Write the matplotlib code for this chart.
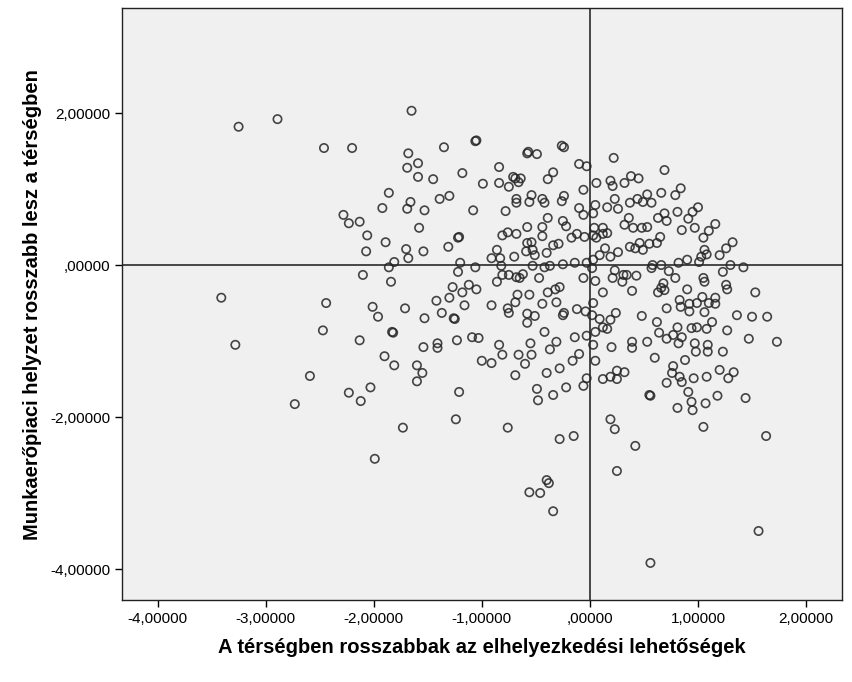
import numpy as np
import matplotlib.pyplot as plt

# Adatok: A térségben rosszabbak az elhelyezkedési lehetőségek (x)
# és Munkaerőpiaci helyzet rosszabb lesz a térségben (y)
x_bal = [-3.25, -2.89, -2.46, -2.20, -1.65, -1.68, -1.59, -1.69, -1.59, -1.86,
         -1.92, -1.66, -1.69, -2.28, -2.23, -2.13, -2.06, -1.89, -2.07, -1.70,
         -1.68, -1.81, -1.86, -1.58,
         -3.41, -3.28, -2.44, -2.47, -2.10, -1.84, -2.01, -1.96, -1.71, -1.83,
         -1.82, -2.13, -1.90, -1.81, -1.60, -1.60, -2.59, -2.73, -2.23, -2.03,
         -2.12, -1.73, -1.99]
y_bal = [1.82, 1.92, 1.54, 1.54, 2.03, 1.47, 1.34, 1.28, 1.16, 0.95,
         0.75, 0.83, 0.74, 0.66, 0.55, 0.57, 0.39, 0.30, 0.18, 0.21,
         0.09, 0.04, -0.03, 0.49,
         -0.43, -1.05, -0.50, -0.86, -0.13, -0.22, -0.55, -0.68, -0.57, -0.88,
         -0.89, -0.99, -1.20, -1.32, -1.32, -1.53, -1.46, -1.83, -1.68, -1.61,
         -1.79, -2.14, -2.55]

x_kozep = [-1.35, -1.05, -1.06, -0.57, -0.58, -0.49, -0.26, -0.24, -0.10, -0.03,
           -1.45, -1.18, -0.99, -0.84, -0.84, -0.75, -0.71, -0.69, -0.64, -0.66,
           -0.39, -0.34, -0.06, -1.30, -1.39, -0.54, -0.24, -0.68, -0.44,
           -1.53, -1.08, -1.54, -1.22, -1.21, -1.31, -0.78, -0.68, -0.56, -0.42,
           -0.26, -0.39, -0.25, -0.22, -0.10, -0.06, -0.58, -0.44, -0.44, -0.81,
           -0.76, -0.68, -0.54, -0.58, -0.53, -0.59, -0.51, -0.40, -0.34, -0.29,
           -0.17, -0.12, -0.05, -0.86, -0.91, -0.83, -0.70, -1.20, -1.22, -1.06,
           -0.82, -0.81, -0.75, -0.68, -0.62, -0.65, -0.53, -0.42, -0.37, -0.25,
           -0.14, -0.03, -0.47, -0.86, -1.27, -1.12, -1.05, -1.18, -0.67, -0.56,
           -0.39, -0.32, -0.28, -0.06,
           -1.42, -1.30, -1.16, -1.37, -1.53, -1.26, -1.25, -0.91, -0.76, -0.75,
           -0.69, -0.44, -0.31, -0.58, -0.51, -0.58, -0.25, -0.24, -0.12, -0.04,
           -0.42, -0.14, -0.03, -1.23, -1.09, -1.03, -1.54, -1.41, -1.41, -0.84,
           -0.81, -1.00, -0.91, -0.66, -0.55, -0.54, -0.60, -0.37, -0.31, -0.16,
           -0.10, -1.55, -0.69, -0.40, -0.28, -0.03, -0.06, -0.22, -0.49, -0.34,
           -1.21,
           -1.24, -0.76, -0.48, -0.28, -0.15, -0.40, -0.56, -0.46, -0.38, -0.34]
y_kozep = [1.55, 1.64, 1.63, 1.49, 1.47, 1.46, 1.57, 1.55, 1.33, 1.30,
           1.13, 1.21, 1.07, 1.29, 1.08, 1.03, 1.16, 1.14, 1.14, 1.09,
           1.13, 1.22, 0.99, 0.91, 0.87, 0.92, 0.91, 0.87, 0.87,
           0.72, 0.72, 0.18, 0.36, 0.37, 0.24, 0.71, 0.82, 0.83, 0.82,
           0.84, 0.62, 0.58, 0.51, 0.75, 0.66, 0.50, 0.50, 0.38, 0.39,
           0.43, 0.41, 0.30, 0.29, 0.20, 0.18, 0.13, 0.16, 0.26, 0.28,
           0.36, 0.41, 0.37, 0.20, 0.09, 0.09, 0.11, 0.03, -0.09, -0.03,
           -0.01, -0.13, -0.13, -0.16, -0.12, -0.17, -0.01, -0.03, -0.01, 0.01,
           0.03, 0.03, -0.17, -0.22, -0.29, -0.26, -0.32, -0.36, -0.39, -0.39,
           -0.36, -0.32, -0.29, -0.17,
           -0.47, -0.43, -0.53, -0.63, -0.70, -0.70, -0.71, -0.53, -0.57, -0.63,
           -0.49, -0.51, -0.49, -0.64, -0.67, -0.76, -0.66, -0.63, -0.58, -0.61,
           -0.88, -0.95, -0.93, -0.99, -0.95, -0.96, -1.08, -1.03, -1.09, -1.05,
           -1.18, -1.26, -1.29, -1.18, -1.03, -1.18, -1.30, -1.11, -1.01, -1.26,
           -1.17, -1.42, -1.45, -1.42, -1.36, -1.49, -1.59, -1.61, -1.63, -1.71,
           -1.67,
           -2.03, -2.14, -1.78, -2.29, -2.25, -2.83, -2.99, -3.00, -2.87, -3.24]

x_jobb = [0.56, 0.81, 0.94, 0.95, 1.07, 1.18, 1.44, 0.19, 0.23, 1.05,
          1.63, 0.42, 0.25, 1.56, 0.56,
          0.22, 0.69, 0.38, 0.45, 0.06, 0.19, 0.21, 0.32, 0.53, 0.66,
          0.79, 0.84, 0.23, 0.44,
          0.05, 0.03, 0.16, 0.26, 0.37, 0.49, 0.57, 0.36, 0.32, 0.40,
          0.48, 0.53, 0.63, 0.69, 0.71, 0.81, 0.91, 0.95, 1.00, 0.85,
          0.97, 1.05, 1.10, 1.16, 0.04, 0.12, 0.03, 0.06, 0.12, 0.16,
          0.65, 0.37, 0.46, 0.49, 0.55, 0.62, 0.42, 0.14, 0.09, 0.19,
          0.26, 0.03, 0.02, 1.32, 1.26, 1.20, 1.06, 1.08, 1.03, 1.01,
          0.90, 0.82, 0.58, 0.66, 0.73, 0.79, 0.57, 1.30, 1.23, 1.42,
          0.23, 0.31, 0.34, 0.43, 0.21, 0.30, 0.05, 1.05, 1.06, 0.68,
          0.66, 1.26, 1.27, 1.53, 0.90, 0.39, 0.12,
          0.63, 0.69, 0.83, 0.84, 0.92, 0.92, 0.99, 1.04, 1.06, 1.10,
          1.16, 1.16, 0.71, 0.24, 0.48, 1.36, 1.50, 1.64, 0.03, 0.02,
          0.09, 0.19, 0.12, 0.16, 0.05, 0.62, 0.81, 0.77, 0.85, 0.82,
          0.64, 0.71, 0.94, 0.99, 1.08, 1.13, 1.27, 1.47, 1.73, 0.39,
          0.39, 0.53, 0.20, 0.03, 0.97, 0.98, 1.09, 1.09, 1.23, 0.60,
          0.88, 0.05, 0.77, 0.76, 0.83, 0.85, 0.96, 1.08, 1.20, 1.33,
          1.28, 0.25, 0.32, 0.12, 0.19, 0.25, 0.71, 0.55, 0.91]
y_jobb = [-1.72, -1.88, -1.80, -1.91, -1.82, -1.72, -1.75, -2.03, -2.16, -2.13,
          -2.25, -2.38, -2.71, -3.50, -3.92,
          1.41, 1.25, 1.17, 1.14, 1.08, 1.11, 1.04, 1.08, 0.93, 0.95,
          0.92, 1.01, 0.87, 0.87,
          0.79, 0.68, 0.76, 0.74, 0.82, 0.83, 0.82, 0.62, 0.53, 0.49,
          0.49, 0.50, 0.62, 0.68, 0.58, 0.70, 0.61, 0.70, 0.76, 0.46,
          0.49, 0.36, 0.45, 0.54, 0.49, 0.49, 0.39, 0.36, 0.41, 0.42,
          0.37, 0.24, 0.29, 0.20, 0.28, 0.29, 0.22, 0.22, 0.13, 0.11,
          0.17, 0.07, -0.04, 0.30, 0.22, 0.13, 0.20, 0.14, 0.11, 0.04,
          0.07, 0.03, 0.00, 0.00, -0.08, -0.17, -0.04, 0.00, -0.09, -0.03,
          -0.07, -0.13, -0.13, -0.14, -0.17, -0.22, -0.21, -0.17, -0.22, -0.24,
          -0.30, -0.26, -0.32, -0.36, -0.32, -0.34, -0.36,
          -0.36, -0.33, -0.46, -0.55, -0.51, -0.61, -0.50, -0.42, -0.62, -0.50,
          -0.43, -0.51, -0.57, -0.63, -0.67, -0.66, -0.68, -0.68, -0.50, -0.66,
          -0.71, -0.72, -0.82, -0.84, -0.88, -0.75, -0.82, -0.92, -0.95, -1.03,
          -0.89, -0.97, -0.83, -0.82, -0.84, -0.75, -0.86, -0.97, -1.01, -1.01,
          -1.09, -1.01, -1.08, -1.05, -1.03, -1.14, -1.05, -1.14, -1.14, -1.22,
          -1.25, -1.26, -1.33, -1.42, -1.47, -1.54, -1.49, -1.47, -1.38, -1.41,
          -1.49, -1.39, -1.41, -1.50, -1.47, -1.50, -1.55, -1.71, -1.67]

x_ertekek = x_bal + x_kozep + x_jobb
y_ertekek = y_bal + y_kozep + y_jobb

x_ticks = [-4, -3, -2, -1, 0, 1, 2]
y_ticks = [-4, -2, 0, 2]

def cimke(v):
    s = '%.5f' % v
    s = s.replace('.', ',')
    s = s.replace('-0,', ',').replace('0,', ',') if abs(v) < 1e-9 else s
    return s

plt.rcParams['font.family'] = ['Liberation Sans', 'DejaVu Sans']

fig = plt.figure(figsize=(8.52, 6.82), dpi=100)
ax = fig.add_axes([0.143, 0.12, 0.845, 0.868])
ax.set_facecolor('#f0f0f0')

ax.axvline(0, color='#3a3a3a', linewidth=1.3, zorder=1)
ax.axhline(0, color='#3a3a3a', linewidth=1.3, zorder=1)
ax.scatter(x_ertekek, y_ertekek, s=36, facecolors='none', edgecolors='#262626',
           linewidths=1.2, alpha=0.85, zorder=2)

ax.set_xlim(-4.33, 2.33)
ax.set_ylim(-4.41, 3.38)
ax.set_xticks(x_ticks)
ax.set_xticklabels([cimke(v) for v in x_ticks], fontsize=11)
ax.set_yticks(y_ticks)
ax.set_yticklabels([cimke(v) for v in y_ticks], fontsize=11)
ax.tick_params(direction='out', length=5, width=1, color='black')
for sp in ax.spines.values():
    sp.set_color('#222222')
    sp.set_linewidth(1.0)

ax.set_xlabel('A térségben rosszabbak az elhelyezkedési lehetőségek',
              fontsize=14.5, fontweight='bold', labelpad=9)
ax.set_ylabel('Munkaerőpiaci helyzet rosszabb lesz a térségben',
              fontsize=14.5, fontweight='bold', labelpad=6)

fig.savefig('out.png', dpi=100, facecolor='white')
